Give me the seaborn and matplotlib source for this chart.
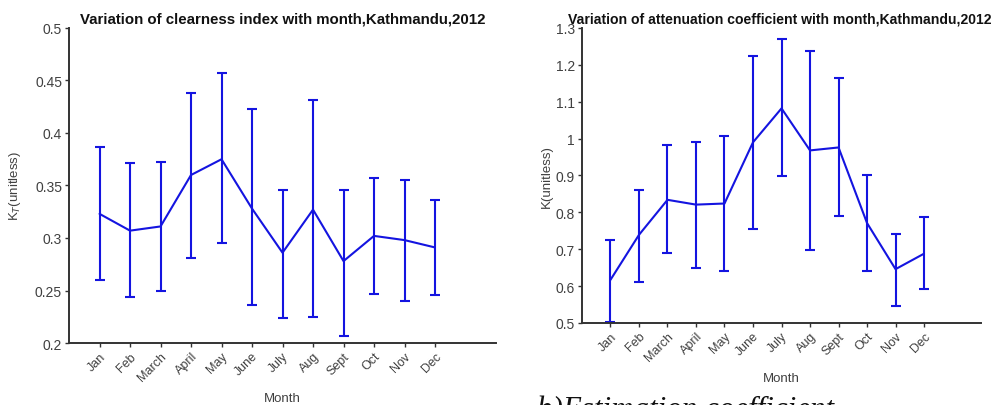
import numpy as np
import pandas as pd
import matplotlib
matplotlib.use('Agg')
import matplotlib.pyplot as plt
import seaborn as sns

sns.set_theme(style='ticks')
plt.rcParams['font.family'] = ['Liberation Sans', 'DejaVu Sans']

months = ['Jan', 'Feb', 'March', 'April', 'May', 'June', 'July', 'Aug', 'Sept', 'Oct', 'Nov', 'Dec']

# clearness index K_T
kt_mean = [0.323, 0.307, 0.311, 0.360, 0.375, 0.328, 0.286, 0.327, 0.278, 0.302, 0.298, 0.291]
kt_low = [0.260, 0.244, 0.250, 0.281, 0.295, 0.236, 0.224, 0.225, 0.207, 0.247, 0.240, 0.246]
kt_high = [0.387, 0.371, 0.372, 0.438, 0.457, 0.423, 0.346, 0.431, 0.346, 0.357, 0.355, 0.336]

# attenuation coefficient K
k_mean = [0.617, 0.739, 0.834, 0.821, 0.824, 0.990, 1.082, 0.968, 0.976, 0.771, 0.646, 0.688]
k_low = [0.504, 0.612, 0.690, 0.650, 0.641, 0.754, 0.898, 0.697, 0.789, 0.641, 0.547, 0.591]
k_high = [0.724, 0.861, 0.983, 0.991, 1.007, 1.224, 1.270, 1.238, 1.164, 0.902, 0.742, 0.788]

line_color = '#1414e0'
spine_color = '#333333'
text_color = '#404040'

fig = plt.figure(figsize=(9.96, 4.06), dpi=100)
ax1 = fig.add_axes([0.0693, 0.1527, 0.4287, 0.7759])
ax2 = fig.add_axes([0.5843, 0.2020, 0.4007, 0.7266])


def draw_panel(ax, mean, low, high, title, title_size, ylabel, ylim, yticks, yticklabels):
    df = pd.DataFrame({'pos': np.arange(1, len(months) + 1), 'val': mean})
    err = [np.array(mean) - np.array(low), np.array(high) - np.array(mean)]
    ax.errorbar(df['pos'], df['val'], yerr=err, fmt='none', ecolor=line_color,
                elinewidth=1.5, capsize=3.5, capthick=1.5)
    sns.lineplot(data=df, x='pos', y='val', ax=ax, color=line_color, linewidth=1.5)
    ax.set_xlim(0, 14)
    ax.set_ylim(*ylim)
    ax.set_xticks(df['pos'])
    ax.set_xticklabels(months, rotation=45, ha='right', rotation_mode='anchor',
                       fontsize=9, color=text_color)
    ax.set_yticks(yticks)
    ax.set_yticklabels(yticklabels, fontsize=10, color=text_color)
    ax.set_xlabel('Month', fontsize=9.5, color=text_color)
    ax.set_ylabel(ylabel, fontsize=9.5, color=text_color)
    ax.set_title(title, fontsize=title_size, fontweight='bold', color='#111111', pad=4)
    for side in ['top', 'right']:
        ax.spines[side].set_visible(False)
    for side in ['left', 'bottom']:
        ax.spines[side].set_color(spine_color)
        ax.spines[side].set_linewidth(1.4)
    ax.tick_params(axis='both', direction='out', length=3, width=1, color=spine_color, pad=2)


draw_panel(ax1, kt_mean, kt_low, kt_high,
           'Variation of clearness index with month,Kathmandu,2012', 10.8,
           'K$_T$(unitless)', (0.2, 0.5),
           [0.2, 0.25, 0.3, 0.35, 0.4, 0.45, 0.5],
           ['0.2', '0.25', '0.3', '0.35', '0.4', '0.45', '0.5'])
draw_panel(ax2, k_mean, k_low, k_high,
           'Variation of attenuation coefficient with month,Kathmandu,2012', 10.1,
           'K(unitless)', (0.5, 1.3),
           [0.5, 0.6, 0.7, 0.8, 0.9, 1.0, 1.1, 1.2, 1.3],
           ['0.5', '0.6', '0.7', '0.8', '0.9', '1', '1.1', '1.2', '1.3'])

ax1.xaxis.set_label_coords(0.5, -0.155)
ax2.xaxis.set_label_coords(0.5, -0.165)
ax1.yaxis.set_label_coords(-0.108, 0.5)
ax2.yaxis.set_label_coords(-0.073, 0.5)
ax2.title.set_position((0.495, 1.0))

# caption of the page, cut off at the bottom
fig.text(537 / 996, (406 - 396) / 406, 'b)Estimation coefficient', fontsize=22.3, style='italic',
         family='Liberation Serif', color='#111111', va='top', ha='left')

fig.savefig('out.png', dpi=100, facecolor='white')
